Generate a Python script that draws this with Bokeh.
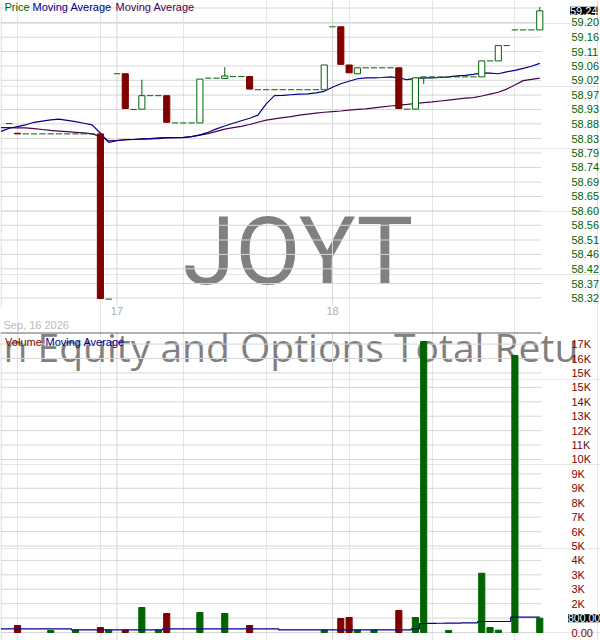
from bokeh.plotting import figure
from bokeh.models import Label, Range1d, ColumnDataSource
from bokeh.layouts import column
from bokeh.embed import file_html
from bokeh.resources import INLINE
from bokeh.core.properties import value

# ---------------- data ----------------
ticker_symbol = "JOYT"
fund_name_visible = "n Equity and Options Total Retu"
session_date = "Sep, 16 2026"
day_ticks = [12, 38]
day_labels = ["17", "18"]

price_ticks = [58.324, 58.370, 58.417, 58.463, 58.509, 58.556, 58.602, 58.648,
               58.694, 58.741, 58.787, 58.833, 58.880, 58.926, 58.972, 59.019,
               59.065, 59.111, 59.157, 59.204, 59.250]
price_tick_labels = ["58.32", "58.37", "58.42", "58.46", "58.51", "58.56", "58.60",
                     "58.65", "58.69", "58.74", "58.79", "58.83", "58.88", "58.93",
                     "58.97", "59.02", "59.06", "59.11", "59.16", "59.20", ""]

volume_ticks = [0, 856, 1712, 2568, 3424, 4280, 5136, 5992, 6848, 7704, 8560,
                9416, 10272, 11128, 11984, 12840, 13696, 14552, 15408, 16264, 17120]
volume_tick_labels = ["0.00", "", "2K", "3K", "3K", "4K", "5K", "6K", "7K", "8K", "9K",
                      "9K", "10K", "11K", "12K", "13K", "14K", "15K", "15K", "16K", "17K"]

# 15-minute bar slots (26 per session)
slots = list(range(-1, 64))
opens = [58.881, 58.850,
         58.848, 58.848, 58.848, 58.848, 58.848, 58.848, 58.848, 58.848, 58.848,
         58.848, 58.320, 59.040, 59.040, 58.926, 58.927, 58.970, 58.970, 58.970,
         58.883, 58.883, 58.883, 58.883, 59.026, 59.026, 59.025, 59.031, 59.031, 59.031,
         58.989, 58.989, 58.989, 58.989, 58.989, 58.989, 58.989, 58.989, 58.989,
         59.190, 59.190, 59.068, 59.040, 59.059, 59.059, 59.059, 59.059, 59.059,
         58.927, 58.927, 59.027, 59.030, 59.030, 59.030, 59.030, 59.030, 59.030,
         59.030, 59.081, 59.081, 59.130, 59.180, 59.180, 59.180, 59.180]
highs = [58.881, 58.850,
         58.848, 58.848, 58.848, 58.848, 58.848, 58.848, 58.848, 58.848, 58.848,
         58.848, 58.320, 59.040, 59.040, 58.926, 59.021, 58.970, 58.970, 58.970,
         58.883, 58.883, 58.883, 59.023, 59.026, 59.026, 59.061, 59.031, 59.031, 59.031,
         58.989, 58.989, 58.989, 58.989, 58.989, 58.989, 58.989, 58.989, 59.068,
         59.190, 59.190, 59.068, 59.059, 59.059, 59.059, 59.059, 59.059, 59.059,
         58.927, 59.027, 59.030, 59.030, 59.030, 59.030, 59.030, 59.030, 59.030,
         59.081, 59.081, 59.130, 59.130, 59.180, 59.180, 59.180, 59.253]
lows = [58.881, 58.848,
        58.848, 58.848, 58.848, 58.848, 58.848, 58.848, 58.848, 58.848, 58.848,
        58.322, 58.320, 59.040, 58.929, 58.926, 58.927, 58.970, 58.970, 58.885,
        58.883, 58.883, 58.883, 58.883, 59.026, 59.026, 59.025, 59.031, 59.031, 58.991,
        58.989, 58.989, 58.989, 58.989, 58.989, 58.989, 58.989, 58.989, 58.989,
        59.190, 59.070, 59.043, 59.040, 59.059, 59.059, 59.059, 59.059, 58.929,
        58.927, 58.927, 59.007, 59.030, 59.030, 59.030, 59.030, 59.030, 59.030,
        59.030, 59.081, 59.081, 59.130, 59.180, 59.180, 59.180, 59.180]
closes = [58.881, 58.848,
          58.848, 58.848, 58.848, 58.848, 58.848, 58.848, 58.848, 58.848, 58.848,
          58.322, 58.320, 59.040, 58.929, 58.926, 58.970, 58.970, 58.970, 58.885,
          58.883, 58.883, 58.883, 59.023, 59.026, 59.026, 59.033, 59.031, 59.031, 58.991,
          58.989, 58.989, 58.989, 58.989, 58.989, 58.989, 58.989, 58.989, 59.068,
          59.190, 59.070, 59.043, 59.059, 59.059, 59.059, 59.059, 59.059, 58.929,
          58.927, 59.027, 59.030, 59.030, 59.030, 59.030, 59.030, 59.030, 59.030,
          59.081, 59.081, 59.130, 59.130, 59.180, 59.180, 59.180, 59.241]
volumes = [0, 416,
           0, 0, 0, 119, 0, 0, 137, 0, 0,
           297, 137, 0, 137, 0, 1484, 0, 137, 1128,
           0, 0, 0, 1187, 0, 0, 1128, 0, 0, 416,
           0, 0, 0, 0, 0, 0, 0, 0, 137,
           0, 831, 890, 137, 0, 137, 0, 0, 1306,
           0, 890, 17274, 0, 0, 119, 0, 0, 0,
           3520, 297, 137, 0, 16443, 0, 0, 849]

ma_slots = list(range(-2, 64))
price_ma_fast = [58.856, 58.866, 58.871, 58.877, 58.885, 58.889, 58.893, 58.895, 58.891,
                 58.887, 58.882, 58.877, 58.850, 58.821, 58.826, 58.830, 58.830, 58.832,
                 58.833, 58.835, 58.836, 58.836, 58.836, 58.839, 58.845, 58.853, 58.864,
                 58.873, 58.882, 58.890, 58.898, 58.908, 58.944, 58.970, 58.971, 58.973,
                 58.975, 58.976, 58.979, 58.984, 58.997, 59.008, 59.016, 59.024, 59.027,
                 59.027, 59.028, 59.030, 59.027, 59.021, 59.025, 59.027, 59.027, 59.028,
                 59.030, 59.033, 59.035, 59.038, 59.043, 59.042, 59.040, 59.046, 59.051,
                 59.057, 59.064, 59.073]
price_ma_slow = [58.868, 58.868, 58.867, 58.867, 58.865, 58.862, 58.859, 58.857, 58.855,
                 58.853, 58.851, 58.848, 58.840, 58.826, 58.827, 58.829, 58.830, 58.831,
                 58.832, 58.833, 58.835, 58.836, 58.837, 58.839, 58.844, 58.849, 58.856,
                 58.863, 58.868, 58.872, 58.878, 58.885, 58.892, 58.896, 58.900, 58.903,
                 58.908, 58.911, 58.914, 58.917, 58.919, 58.921, 58.924, 58.926, 58.928,
                 58.931, 58.934, 58.937, 58.940, 58.942, 58.945, 58.948, 58.950, 58.953,
                 58.956, 58.959, 58.962, 58.964, 58.969, 58.975, 58.981, 58.991, 59.004,
                 59.018, 59.022, 59.026]
volume_ma = [220, 220, 220, 220, 220, 220, 220, 220, 220,
             160, 160, 160, 160, 160, 160, 160, 160, 160, 160, 160,
             220, 220, 220, 220, 220, 220, 220, 220, 220, 220, 220, 220, 220, 220,
             160, 160, 160, 160, 160, 160, 160, 160, 160, 160, 160, 160, 160, 160, 160, 160,
             220, 534, 541, 548, 555, 562, 569, 576,
             653, 653, 653, 653, 908, 908, 908, 908]

last_price_text = f"{closes[-1]:.2f}"
last_volume_text = "800.00"

# ---------------- styling / layout helpers ----------------
GREEN = "#006400"
RED = "#800000"
BLUE = "#00008b"
PURPLE = "#500050"
GRID = "#d6d6d6"
SMALL_FONT = "Liberation Sans"

REF_SLOT0, REF_SLOT_W = 17.0, 8.29       # pixel column of slot 0, pixels per slot
PX_PER_PRICE = 0.003194                  # price units per pixel
PX_PER_VOL = 59.36                       # volume units per pixel
PRICE_AT_TOP = 59.274
VOL_ZERO_PX = 632.0
SPLIT = 317                              # pixel row where the volume canvas starts


def ref_x(px):
    return (px - REF_SLOT0) / REF_SLOT_W


def ref_price_y(py):
    return PRICE_AT_TOP - py * PX_PER_PRICE


def ref_vol_y(py):
    return (VOL_ZERO_PX - py) * PX_PER_VOL


X0, X1 = ref_x(0), ref_x(600)
GRID_END = ref_x(541)
LABEL_X = ref_x(571)
P_TOP, P_BOT = ref_price_y(0), ref_price_y(SPLIT)
P_PANEL_BOT = ref_price_y(305)
V_TOP, V_BOT = ref_vol_y(SPLIT), ref_vol_y(640)
V_PANEL_TOP = ref_vol_y(332)


def add_text(fig, xs, ys, texts, color, size="11px", font=SMALL_FONT, align="left"):
    return fig.text(x=xs, y=ys, text=texts, text_color=color, text_font=value(font),
                    text_font_size=value(size), text_align=align,
                    text_baseline="middle")


def make_fig(height, y0, y1):
    f = figure(width=600, height=height, x_range=xr, y_range=Range1d(y0, y1),
               output_backend="svg", toolbar_location=None,
               x_axis_location=None, y_axis_location=None, min_border=0)
    f.outline_line_color = None
    f.background_fill_color = "white"
    f.border_fill_color = "white"
    return f


xr = Range1d(X0, X1)

# ---------------- price panel ----------------
p = make_fig(SPLIT, P_BOT, P_TOP)

# watermark ticker (under the grid)
add_text(p, [ref_x(297.5)], [ref_price_y(251)], [ticker_symbol], "#808080",
         size="95px", font="Roboto", align="center")

# grid
n = len(price_ticks)
p.segment(x0=[X0] * n, y0=price_ticks, x1=[GRID_END] * n, y1=price_ticks,
          line_color=GRID, line_width=1)
p.segment(x0=day_ticks, y0=[P_PANEL_BOT] * len(day_ticks), x1=day_ticks,
          y1=[P_TOP] * len(day_ticks), line_color=GRID, line_width=1)
p.segment(x0=[ref_x(0.5)], y0=[ref_price_y(307)], x1=[ref_x(0.5)], y1=[P_TOP],
          line_color=GRID, line_width=1)

# moving averages
p.line(ma_slots, price_ma_slow, line_color=PURPLE, line_width=1.2)
p.line(ma_slots, price_ma_fast, line_color=BLUE, line_width=1.2)

# candles
flat = [o == c and h == l for o, h, l, c in zip(opens, highs, lows, closes)]
solid_idx = [k for k in range(len(slots)) if not flat[k]]
flat_idx = [k for k in range(len(slots)) if flat[k]]

wick_src = ColumnDataSource(dict(
    x=[slots[k] for k in solid_idx],
    lo=[lows[k] for k in solid_idx],
    hi=[highs[k] for k in solid_idx],
    col=[GREEN if closes[k] >= opens[k] else RED for k in solid_idx]))
p.segment(x0="x", y0="lo", x1="x", y1="hi", line_color="col", line_width=1, source=wick_src)

body_src = ColumnDataSource(dict(
    x=[slots[k] for k in solid_idx],
    top=[max(opens[k], closes[k]) for k in solid_idx],
    bottom=[min(opens[k], closes[k]) for k in solid_idx],
    line=[GREEN if closes[k] >= opens[k] else RED for k in solid_idx],
    fill=["white" if closes[k] >= opens[k] else RED for k in solid_idx]))
p.vbar(x="x", width=0.74, top="top", bottom="bottom", fill_color="fill",
       line_color="line", line_width=1, source=body_src)

dash_src = ColumnDataSource(dict(x0=[slots[k] - 0.38 for k in flat_idx],
                                 x1=[slots[k] + 0.38 for k in flat_idx],
                                 y=[closes[k] for k in flat_idx]))
p.segment(x0="x0", y0="y", x1="x1", y1="y", line_color=GREEN, line_width=1, source=dash_src)

# legend
for txt, col, rx in [("Price", GREEN, 4), ("Moving Average", BLUE, 32),
                     ("Moving Average", PURPLE, 115)]:
    add_text(p, [ref_x(rx)], [ref_price_y(6.5)], [txt], col)

# session day labels
add_text(p, day_ticks, [ref_price_y(310.5)] * len(day_ticks), day_labels, "#aaaaaa",
         align="center")

# price axis labels
shown = [k for k in range(n) if price_tick_labels[k]]
add_text(p, [LABEL_X] * len(shown), [price_ticks[k] for k in shown],
         [price_tick_labels[k] for k in shown], GREEN)

p.add_layout(Label(x=ref_x(569.5), y=closes[-1], text=last_price_text, text_color="white",
                   background_fill_color="black", text_font=SMALL_FONT,
                   text_font_size="11px", text_baseline="middle", text_align="left"))

# ---------------- volume panel ----------------
v = make_fig(640 - SPLIT, V_BOT, V_TOP)

add_text(v, [ref_x(3)], [ref_vol_y(346)], [fund_name_visible], "#808080",
         size="39px", font="Open Sans")

add_text(v, [ref_x(3)], [ref_vol_y(324.2)], [session_date], "#bbbbbb")

m = len(volume_ticks)
v.segment(x0=[X0] * m, y0=volume_ticks, x1=[GRID_END] * m, y1=volume_ticks,
          line_color=GRID, line_width=1)
v.segment(x0=day_ticks, y0=[V_BOT] * len(day_ticks), x1=day_ticks,
          y1=[V_PANEL_TOP] * len(day_ticks), line_color=GRID, line_width=1)
v.segment(x0=[ref_x(0.5)], y0=[V_BOT], x1=[ref_x(0.5)], y1=[V_PANEL_TOP],
          line_color=GRID, line_width=1)

vol_idx = [k for k in range(len(slots)) if volumes[k] > 0]
vol_src = ColumnDataSource(dict(
    x=[slots[k] for k in vol_idx],
    top=[volumes[k] for k in vol_idx],
    col=[GREEN if closes[k] >= opens[k] else RED for k in vol_idx]))
v.vbar(x="x", width=0.74, top="top", bottom=0, fill_color="col", line_color="col",
       source=vol_src)
v.step(ma_slots, volume_ma, mode="center", line_color=BLUE, line_width=1.2)

# separator between the panels
v.segment(x0=[X0], y0=[ref_vol_y(332.5)], x1=[GRID_END], y1=[ref_vol_y(332.5)],
          line_color="#606060", line_width=1)

for txt, col, rx in [("Volume", RED, 4.6), ("Moving Average", BLUE, 45)]:
    add_text(v, [ref_x(rx)], [ref_vol_y(341)], [txt], col)

shown_v = [k for k in range(m) if volume_tick_labels[k]]
add_text(v, [LABEL_X] * len(shown_v), [volume_ticks[k] for k in shown_v],
         [volume_tick_labels[k] for k in shown_v], RED)

v.add_layout(Label(x=ref_x(567.5), y=volumes[-1], text=last_volume_text, text_color="white",
                   background_fill_color="black", text_font=SMALL_FONT,
                   text_font_size="10.5px", text_baseline="middle", text_align="left"))

layout = column(p, v, spacing=0)
open("out.html", "w").write(file_html(layout, INLINE))
